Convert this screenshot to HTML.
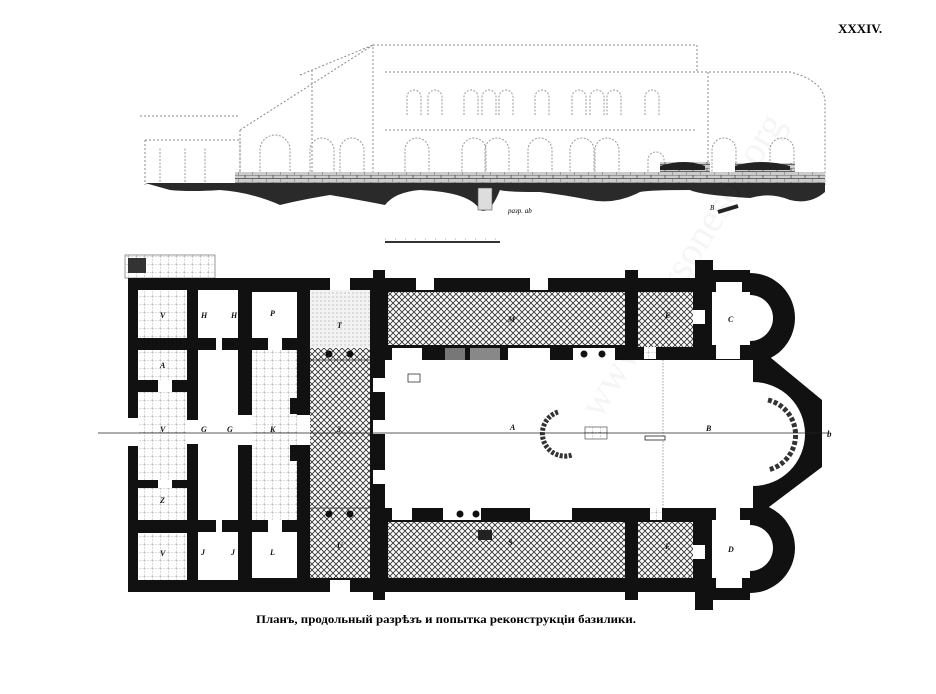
<!DOCTYPE html>
<html><head><meta charset="utf-8"><style>
html,body{margin:0;padding:0;background:#fff;width:936px;height:694px;overflow:hidden}
svg{display:block}
text{font-family:"Liberation Serif","DejaVu Serif",serif}
</style></head><body>
<svg width="936" height="694" viewBox="0 0 936 694" xmlns="http://www.w3.org/2000/svg">
<defs>
<pattern id="ch" width="6" height="6" patternUnits="userSpaceOnUse">
<rect width="6" height="6" fill="#fff"/>
<path d="M0 0L6 6M6 0L0 6" stroke="#333" stroke-width="0.9"/>
</pattern>
<pattern id="gr" width="8" height="8" patternUnits="userSpaceOnUse">
<rect width="8" height="8" fill="#fff"/>
<path d="M0 0H8M0 0V8" stroke="#777" stroke-width="0.6" stroke-dasharray="2 1"/>
</pattern>
<pattern id="dt" width="4" height="4" patternUnits="userSpaceOnUse">
<rect width="4" height="4" fill="#f2f2f2"/>
<circle cx="1" cy="1" r="0.5" fill="#777"/>
</pattern>
<pattern id="ms" width="14" height="7" patternUnits="userSpaceOnUse">
<rect width="14" height="7" fill="#ccc"/>
<path d="M0 0H14M0 3.5H14M7 0V3.5M0 3.5V7" stroke="#444" stroke-width="0.7"/>
</pattern>
</defs>

<!-- ELEVATION -->
<g fill="none" stroke="#888" stroke-width="1" stroke-dasharray="2 2">
<path d="M373 45H697V72"/>
<path d="M385 72H697"/>
<path d="M697 72H790Q822 80 825 100V185"/>
<path d="M708 72V185"/>
<path d="M240 130L373 45V185"/>
<path d="M300 75L373 45"/>
<path d="M145 140H240V185"/>
<path d="M145 140V185"/>
<path d="M385 130H697"/>
<path d="M312 70V185"/>
<path d="M240 130V185"/>
<path d="M140 116H240"/>
</g>
<g fill="none" stroke="#999" stroke-width="1" stroke-dasharray="2 1.5">
<path d="M407 115V97a7 7 0 0 1 14 0V115M428 115V97a7 7 0 0 1 14 0V115M464 115V97a7 7 0 0 1 14 0V115M482 115V97a7 7 0 0 1 14 0V115M499 115V97a7 7 0 0 1 14 0V115M535 115V97a7 7 0 0 1 14 0V115M572 115V97a7 7 0 0 1 14 0V115M590 115V97a7 7 0 0 1 14 0V115M607 115V97a7 7 0 0 1 14 0V115M645 115V97a7 7 0 0 1 14 0V115"/>
<path d="M260 175V150a15 15 0 0 1 30 0V175M310 175V150a12 12 0 0 1 24 0V175M340 175V150a12 12 0 0 1 24 0V175M405 175V150a12 12 0 0 1 24 0V175M462 175V150a12 12 0 0 1 24 0V175M485 175V150a12 12 0 0 1 24 0V175M528 175V150a12 12 0 0 1 24 0V175M570 175V150a12 12 0 0 1 24 0V175M595 175V150a12 12 0 0 1 24 0V175M648 175V160a8 8 0 0 1 16 0V175M712 175V150a12 12 0 0 1 24 0V175M770 175V150a12 12 0 0 1 24 0V175"/>
<path d="M160 182V148M185 182V148M205 182V148"/>
</g>
<rect x="235" y="172" width="590" height="12" fill="url(#ms)"/>
<rect x="660" y="162" width="50" height="22" fill="url(#ms)"/>
<rect x="735" y="163" width="60" height="21" fill="url(#ms)"/>
<path d="M660 166Q685 158 705 166V170H660Z M735 166Q760 158 790 166V170H735Z" fill="#222"/>
<path d="M145 183H825V192Q810 205 790 200Q770 192 750 198 700 195 690 190 650 190 640 192 615 205 590 200 565 195 540 192 505 192 500 190 490 215 480 210 470 192 420 190 395 192 385 205 360 200 330 195 300 200 280 205 250 192 220 190 190 192 170 190 145 193Z" fill="#2a2a2a"/>
<rect x="478" y="188" width="14" height="22" fill="#ddd" stroke="#555" stroke-width="0.6"/>
<path d="M718 212L738 206" stroke="#222" stroke-width="4"/>
<text x="508" y="213" font-size="7" font-style="italic">разр. ab</text>
<text x="710" y="210" font-size="7" font-style="italic">B</text>
<path d="M385 242H500" stroke="#333" stroke-width="2"/>
<path d="M385 239H500" stroke="#555" stroke-width="0.6" stroke-dasharray="1 9"/>
<text x="838" y="33" font-size="13" font-weight="bold">XXXIV.</text>

<!-- PLAN -->
<rect x="125" y="255" width="90" height="23" fill="url(#gr)" stroke="#555" stroke-width="0.6"/>
<rect x="128" y="258" width="18" height="15" fill="#333"/>
<rect x="128" y="278" width="585" height="314" fill="#111"/>
<rect x="373" y="270" width="12" height="330" fill="#111"/>
<rect x="625" y="270" width="13" height="330" fill="#111"/>
<rect x="695" y="260" width="18" height="350" fill="#111"/>
<rect x="713" y="270" width="37" height="330" fill="#111"/>
<circle cx="750" cy="318" r="45" fill="#111"/>
<circle cx="750" cy="548" r="45" fill="#111"/>
<path d="M750 345L765 353L822 400V467L765 510L750 520Z" fill="#111"/>
<g>
<rect x="138" y="290" width="49" height="48" fill="url(#gr)"/>
<rect x="138" y="350" width="49" height="30" fill="url(#gr)"/>
<rect x="138" y="392" width="49" height="88" fill="url(#gr)"/>
<rect x="128" y="418" width="10" height="28" fill="#fff"/>
<rect x="138" y="488" width="49" height="32" fill="url(#gr)"/>
<rect x="138" y="533" width="49" height="47" fill="url(#gr)"/>
<rect x="158" y="380" width="14" height="12" fill="#fff"/>
<rect x="158" y="480" width="14" height="8" fill="#fff"/>
<rect x="187" y="420" width="11" height="24" fill="#fff"/>
<rect x="198" y="290" width="40" height="290" fill="#fff"/>
<rect x="198" y="338" width="18" height="12" fill="#111"/>
<rect x="222" y="338" width="16" height="12" fill="#111"/>
<rect x="198" y="520" width="18" height="12" fill="#111"/>
<rect x="222" y="520" width="16" height="12" fill="#111"/>
<rect x="252" y="292" width="45" height="46" fill="#fff"/>
<rect x="252" y="532" width="45" height="46" fill="#fff"/>
<rect x="252" y="350" width="45" height="170" fill="url(#gr)"/>
<rect x="238" y="398" width="14" height="16" fill="#111"/>
<rect x="238" y="445" width="14" height="16" fill="#111"/>
<rect x="290" y="398" width="20" height="16" fill="#111"/>
<rect x="290" y="445" width="20" height="16" fill="#111"/>
<rect x="238" y="415" width="14" height="30" fill="#fff"/>
<rect x="297" y="415" width="13" height="30" fill="#fff"/>
<rect x="268" y="338" width="14" height="12" fill="#fff"/>
<rect x="268" y="520" width="14" height="12" fill="#fff"/>
<rect x="310" y="290" width="60" height="58" fill="url(#dt)"/>
<rect x="310" y="348" width="60" height="12" fill="url(#ch)"/>
<rect x="310" y="360" width="60" height="148" fill="url(#ch)"/>
<rect x="310" y="508" width="60" height="12" fill="url(#ch)"/>
<rect x="310" y="520" width="60" height="58" fill="url(#ch)"/>
<path d="M310 360H370M310 508H370" stroke="#333" stroke-width="0.7"/>
<circle cx="329" cy="354" r="3.5" fill="#111"/><circle cx="350" cy="354" r="3.5" fill="#111"/>
<circle cx="329" cy="514" r="3.5" fill="#111"/><circle cx="350" cy="514" r="3.5" fill="#111"/>
<rect x="330" y="278" width="20" height="12" fill="#fff"/>
<rect x="330" y="580" width="20" height="12" fill="#fff"/>
<rect x="373" y="378" width="12" height="14" fill="#fff"/>
<rect x="373" y="420" width="12" height="14" fill="#fff"/>
<rect x="373" y="470" width="12" height="14" fill="#fff"/>
<rect x="388" y="292" width="237" height="53" fill="url(#ch)"/>
<rect x="388" y="522" width="237" height="56" fill="url(#ch)"/>
<rect x="385" y="360" width="368" height="148" fill="#fff"/>
<rect x="638" y="292" width="55" height="55" fill="url(#ch)"/>
<rect x="638" y="522" width="55" height="56" fill="url(#ch)"/>
<rect x="712" y="292" width="38" height="53" fill="#fff"/>
<rect x="712" y="520" width="38" height="58" fill="#fff"/>
<path d="M750 295A23 23 0 0 1 750 341Z" fill="#fff"/>
<path d="M750 525A23 23 0 0 1 750 571Z" fill="#fff"/>
<path d="M753 382A52 52 0 0 1 753 486Z" fill="#fff"/>
<rect x="392" y="348" width="30" height="12" fill="#fff"/>
<rect x="445" y="348" width="20" height="12" fill="#777"/>
<rect x="470" y="348" width="30" height="12" fill="#888"/>
<rect x="508" y="348" width="42" height="12" fill="#fff"/>
<rect x="573" y="348" width="42" height="12" fill="#fff"/>
<circle cx="584" cy="354" r="3.5" fill="#111"/><circle cx="602" cy="354" r="3.5" fill="#111"/>
<circle cx="433" cy="354" r="4" fill="#111"/>
<rect x="392" y="508" width="20" height="12" fill="#fff"/>
<rect x="443" y="508" width="38" height="12" fill="#fff"/>
<rect x="530" y="508" width="42" height="12" fill="#fff"/>
<circle cx="578" cy="514" r="3.5" fill="#111"/><circle cx="599" cy="514" r="3.5" fill="#111"/>
<circle cx="460" cy="514" r="3.5" fill="#111"/><circle cx="476" cy="514" r="3.5" fill="#111"/>
<rect x="644" y="347" width="12" height="12" fill="url(#gr)"/>
<rect x="650" y="508" width="12" height="12" fill="url(#gr)"/>
<rect x="416" y="278" width="18" height="12" fill="#fff"/>
<rect x="530" y="278" width="18" height="12" fill="#fff"/>
<rect x="716" y="282" width="26" height="10" fill="#fff"/>
<rect x="716" y="578" width="26" height="10" fill="#fff"/>
<rect x="716" y="345" width="24" height="14" fill="#fff"/>
<rect x="716" y="508" width="24" height="14" fill="#fff"/>
<rect x="693" y="310" width="12" height="14" fill="#fff"/>
<rect x="693" y="545" width="12" height="14" fill="#fff"/>
</g>
<path d="M768 400A36 36 0 0 1 768 470" fill="none" stroke="#333" stroke-width="5" stroke-dasharray="4 2"/>
<path d="M558 412A20 20 0 0 0 572 455" fill="none" stroke="#333" stroke-width="5" stroke-dasharray="3 1.5"/>
<rect x="585" y="427" width="22" height="12" fill="url(#gr)" stroke="#333" stroke-width="0.6"/>
<path d="M663 360V508" stroke="#888" stroke-width="0.8" stroke-dasharray="1.5 1.5"/>
<rect x="645" y="436" width="20" height="4" fill="#fff" stroke="#222" stroke-width="0.8"/>
<rect x="408" y="374" width="12" height="8" fill="#fff" stroke="#333" stroke-width="0.8"/>
<rect x="478" y="530" width="14" height="10" fill="#222"/>
<path d="M98 433H828" stroke="#222" stroke-width="0.7"/>
<g font-size="8" font-style="italic" font-weight="bold" fill="#111">
<text x="160" y="318">V</text><text x="160" y="368">A</text><text x="160" y="432">V</text><text x="160" y="503">Z</text><text x="160" y="556">V</text>
<text x="201" y="318">H</text><text x="231" y="318">H</text><text x="201" y="432">G</text><text x="227" y="432">G</text>
<text x="201" y="555">J</text><text x="231" y="555">J</text>
<text x="270" y="316">P</text><text x="270" y="432">K</text><text x="270" y="555">L</text>
<text x="337" y="328">T</text><text x="337" y="432">З</text><text x="337" y="548">U</text>
<text x="508" y="322">M</text><text x="508" y="545">S</text>
<text x="665" y="318">E</text><text x="665" y="549">F</text>
<text x="728" y="322">C</text><text x="728" y="552">D</text>
<text x="510" y="430">A</text><text x="706" y="431">B</text>
<text x="827" y="437" font-size="9">b</text>
</g>
<text x="446" y="623" font-size="11.5" font-weight="bold" text-anchor="middle" textLength="380" lengthAdjust="spacingAndGlyphs">Планъ, продольный разрѣзъ и попытка реконструкціи базилики.</text>
<text x="600" y="420" font-size="40" fill="#000" fill-opacity="0.04" transform="rotate(-58 600 420)" font-family="Liberation Sans, sans-serif">www.chersonesos.org</text>
</svg>
</body></html>
